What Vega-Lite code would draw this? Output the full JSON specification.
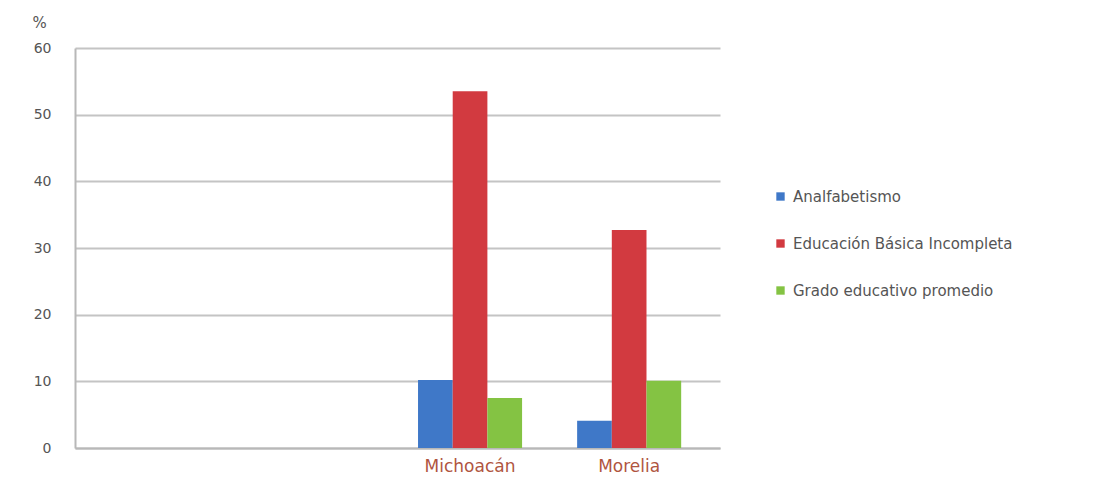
{
  "$schema": "https://vega.github.io/schema/vega-lite/v6.json",
  "width": 645,
  "height": 400,
  "autosize": "none",
  "padding": {"left": 75, "top": 48, "right": 399, "bottom": 36},
  "background": "#ffffff",
  "config": {
    "view": {"stroke": null},
    "font": "DejaVu Sans"
  },
  "data": {
    "values": [
      {"region": "Michoacán", "indicador": "Analfabetismo", "valor": 10.2},
      {"region": "Michoacán", "indicador": "Educación Básica Incompleta", "valor": 53.5},
      {"region": "Michoacán", "indicador": "Grado educativo promedio", "valor": 7.5},
      {"region": "Morelia", "indicador": "Analfabetismo", "valor": 4.1},
      {"region": "Morelia", "indicador": "Educación Básica Incompleta", "valor": 32.7},
      {"region": "Morelia", "indicador": "Grado educativo promedio", "valor": 10.1}
    ]
  },
  "mark": {"type": "bar"},
  "encoding": {
    "x": {
      "field": "region",
      "type": "nominal",
      "sort": null,
      "scale": {"domain": ["_a", "_b", "Michoacán", "Morelia"], "paddingInner": 0.346, "paddingOuter": 0.2, "align": 0.39},
      "axis": {
        "title": null,
        "labelAngle": 0,
        "labelExpr": "datum.value == '_a' || datum.value == '_b' ? '' : datum.value",
        "labelColor": "#b0553f",
        "labelFontSize": 17,
        "labelPadding": 10,
        "ticks": false,
        "domainColor": "#b8b8b8",
        "domainWidth": 2,
        "grid": false
      }
    },
    "xOffset": {
      "field": "indicador",
      "type": "nominal",
      "sort": ["Analfabetismo", "Educación Básica Incompleta", "Grado educativo promedio"],
      "scale": {"paddingInner": 0, "paddingOuter": 0}
    },
    "y": {
      "field": "valor",
      "type": "quantitative",
      "scale": {"domain": [0, 60], "nice": false},
      "axis": {
        "values": [0, 10, 20, 30, 40, 50, 60],
        "title": "%",
        "titleAngle": 0,
        "titleX": -36,
        "titleY": -18,
        "titleFontSize": 15,
        "titleFontWeight": "normal",
        "titleColor": "#555555",
        "labelColor": "#555555",
        "labelFontSize": 14,
        "labelPadding": 24,
        "ticks": false,
        "domainColor": "#b8b8b8",
        "domainWidth": 2,
        "gridColor": "#c4c4c4",
        "gridWidth": 2
      }
    },
    "color": {
      "field": "indicador",
      "type": "nominal",
      "sort": ["Analfabetismo", "Educación Básica Incompleta", "Grado educativo promedio"],
      "scale": {"range": ["#3f78c8", "#d23a40", "#84c343"]},
      "legend": {
        "title": null,
        "orient": "none",
        "legendX": 698,
        "legendY": 141,
        "symbolType": "square",
        "symbolSize": 70,
        "labelFontSize": 15,
        "labelColor": "#555555",
        "labelLimit": 0,
        "rowPadding": 31,
        "labelOffset": 5
      }
    }
  }
}
